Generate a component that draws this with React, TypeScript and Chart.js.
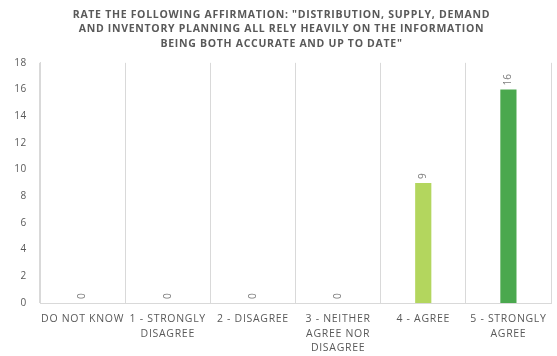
import React, { useEffect, useRef } from "react";
import { Chart, registerables } from "chart.js";

Chart.register(...registerables);

const titleLines = [
  'RATE THE FOLLOWING AFFIRMATION: "DISTRIBUTION, SUPPLY, DEMAND',
  "AND INVENTORY PLANNING ALL RELY HEAVILY ON THE INFORMATION",
  'BEING BOTH ACCURATE AND UP TO DATE"',
];
const categories: string[][] = [
  ["DO NOT KNOW"],
  ["1 - STRONGLY", "DISAGREE"],
  ["2 - DISAGREE"],
  ["3 - NEITHER", "AGREE NOR", "DISAGREE"],
  ["4 - AGREE"],
  ["5 - STRONGLY", "AGREE"],
];
const counts = [0, 0, 0, 0, 9, 16];
const barColors = ["#C00000", "#FF6F3C", "#FFC000", "#D9D9D9", "#B3D65E", "#4AA84E"];
const yTicks = { min: 0, max: 18, step: 2 };

const FONT = "'Open Sans', sans-serif";
const GRAY = "#595959";
const SPACING = "0.7px";

const spacingPlugin = {
  id: "spacing",
  beforeLayout(chart: any) {
    chart.ctx.letterSpacing = SPACING;
  },
  beforeDraw(chart: any) {
    chart.ctx.letterSpacing = SPACING;
  },
};

const valueLabels = {
  id: "valueLabels",
  afterDatasetsDraw(chart: any) {
    const ctx = chart.ctx;
    const meta = chart.getDatasetMeta(0);
    const data = chart.data.datasets[0].data;
    ctx.save();
    ctx.letterSpacing = "0px";
    ctx.font = `10px ${FONT}`;
    ctx.fillStyle = "#7F7F7F";
    ctx.textAlign = "left";
    ctx.textBaseline = "middle";
    meta.data.forEach((bar: any, i: number) => {
      ctx.save();
      ctx.translate(bar.x, bar.y - 4);
      ctx.rotate(-Math.PI / 2);
      ctx.fillText(String(data[i]), 0, 0);
      ctx.restore();
    });
    ctx.restore();
  },
};

export default function App() {
  const ref = useRef<HTMLCanvasElement>(null);
  useEffect(() => {
    document.body.style.margin = "0";
    const chart = new Chart(ref.current!, {
      type: "bar",
      data: {
        labels: categories,
        datasets: [
          {
            data: counts,
            backgroundColor: barColors,
            barPercentage: 0.19,
            categoryPercentage: 1,
          },
        ],
      },
      plugins: [spacingPlugin, valueLabels],
      options: {
        animation: false,
        responsive: false,
        devicePixelRatio: 1,
        layout: { padding: { left: 12, right: 6, top: 0, bottom: 0 } },
        plugins: {
          legend: { display: false },
          tooltip: { enabled: false },
          title: {
            display: true,
            text: titleLines,
            color: GRAY,
            font: { family: FONT, size: 10.5, weight: "bold", lineHeight: 1.36 },
            padding: { top: 8, bottom: 12 },
          },
        },
        scales: {
          x: {
            grid: { display: true, offset: true, color: "#D9D9D9", drawTicks: false },
            border: { color: "#D9D9D9" },
            ticks: {
              color: GRAY,
              font: { family: FONT, size: 10.5, lineHeight: 1.38 },
              maxRotation: 0,
              autoSkip: false,
              padding: 9,
            },
            afterFit(scale: any) {
              scale.height = 53;
            },
          },
          y: {
            min: yTicks.min,
            max: yTicks.max,
            grid: { display: false, drawTicks: false },
            border: { color: "#D9D9D9" },
            ticks: {
              stepSize: yTicks.step,
              color: GRAY,
              font: { family: FONT, size: 10 },
              padding: 13,
            },
            afterFit(scale: any) {
              scale.width = 28;
            },
          },
        },
      },
    });
    return () => chart.destroy();
  }, []);
  return <canvas ref={ref} width={557} height={356} />;
}
